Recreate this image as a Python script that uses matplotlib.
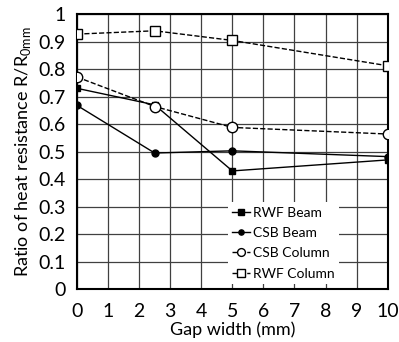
import matplotlib
matplotlib.use('Agg')
import matplotlib.pyplot as plt

# gap width (mm)
gap = [0, 2.5, 5, 10]

rwf_beam = [0.73, 0.67, 0.43, 0.47]
csb_beam = [0.668, 0.495, 0.503, 0.482]
csb_column = [0.771, 0.664, 0.588, 0.564]
rwf_column = [0.927, 0.939, 0.904, 0.812]

plt.rcParams['font.family'] = ['Lato', 'DejaVu Sans']
plt.rcParams['mathtext.fontset'] = 'custom'
plt.rcParams['mathtext.rm'] = 'Lato'

fig = plt.figure(figsize=(3.99, 3.42), dpi=100)
ax = fig.add_axes([77/399, 1-289.3/342, (387.7-77)/399, (289.3-14)/342])

ax.plot(gap, rwf_beam, '-', color='black', lw=1, marker='s', ms=5, mfc='black', label='RWF Beam', zorder=3)
ax.plot(gap, csb_beam, '-', color='black', lw=1, marker='o', ms=5, mfc='black', label='CSB Beam', zorder=3)
ax.plot(gap, csb_column, '--', color='black', lw=1, marker='o', ms=7.5, mfc='white', label='CSB Column', zorder=4)
ax.plot(gap, rwf_column, '--', color='black', lw=1, marker='s', ms=7.5, mfc='white', label='RWF Column', zorder=4)

ax.set_xlim(0, 10)
ax.set_ylim(0, 1)
ax.set_xticks(range(0, 11))
ax.set_yticks([i / 10 for i in range(11)])
ax.set_yticklabels(['0', '0.1', '0.2', '0.3', '0.4', '0.5', '0.6', '0.7', '0.8', '0.9', '1'])
ax.grid(True, color='#404040', lw=0.9)
ax.tick_params(length=0, labelsize=14, pad=8)
ax.tick_params(axis='x', pad=10)
for sp in ax.spines.values():
    sp.set_linewidth(1.5)
    sp.set_color('black')

ax.set_xlabel('Gap width (mm)', fontsize=13, labelpad=1)
ax.set_ylabel('Ratio of heat resistance R/R$_{\\mathregular{0mm}}$', fontsize=13, labelpad=4)

leg = ax.legend(loc='lower right', bbox_to_anchor=(0.865, -0.005), frameon=True, fontsize=10,
                handlelength=1.3, handletextpad=0.2, labelspacing=0.6, markerscale=0.75,
                borderpad=0.3)
leg.get_frame().set_edgecolor('none')
leg.get_frame().set_facecolor('white')
leg.get_frame().set_alpha(1)
leg.get_frame().set_boxstyle('square', pad=0)

fig.savefig('out.png', dpi=100)
